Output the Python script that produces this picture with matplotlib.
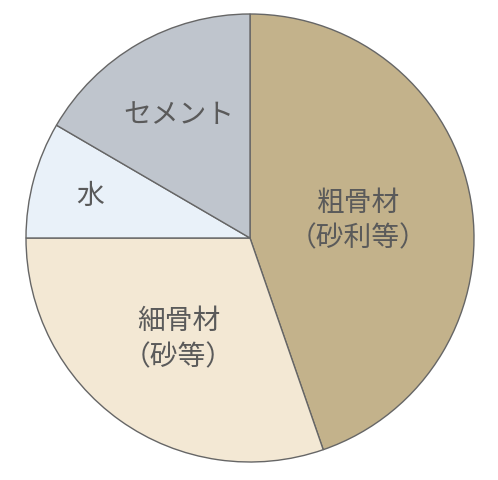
import numpy as np
import matplotlib
matplotlib.use("Agg")
import matplotlib.pyplot as plt

plt.rcParams['font.family'] = ['Noto Sans CJK JP', 'DejaVu Sans']

labels = ["粗骨材\n（砂利等）", "細骨材\n（砂等）", "水", "セメント"]
shares = [44.7, 30.3, 8.4, 16.6]
colors = ["#c3b28b", "#f3e8d4", "#e9f1f9", "#bfc5cd"]
label_r = [0.49, 0.55, 0.74, 0.64]

fig = plt.figure(figsize=(4.98, 4.81), dpi=100)
ax = fig.add_axes([0, 0, 1, 1])

wedges, _ = ax.pie(shares, colors=colors, startangle=90, counterclock=False,
                   radius=1.0,
                   wedgeprops=dict(edgecolor="#666666", linewidth=1.0))

for w, lab, r in zip(wedges, labels, label_r):
    mid = np.deg2rad((w.theta1 + w.theta2) / 2)
    ax.text(r * np.cos(mid), r * np.sin(mid), lab, ha="center", va="center",
            fontsize=20, color="#5a5a5a", linespacing=1.25)

# centre at pixel (250, 239), radius 224 px
s = 224.0
ax.set_xlim(-250 / s, 248 / s)
ax.set_ylim(-242 / s, 239 / s)
ax.set_aspect("auto")
ax.axis("off")

fig.savefig("out.png", dpi=100)
